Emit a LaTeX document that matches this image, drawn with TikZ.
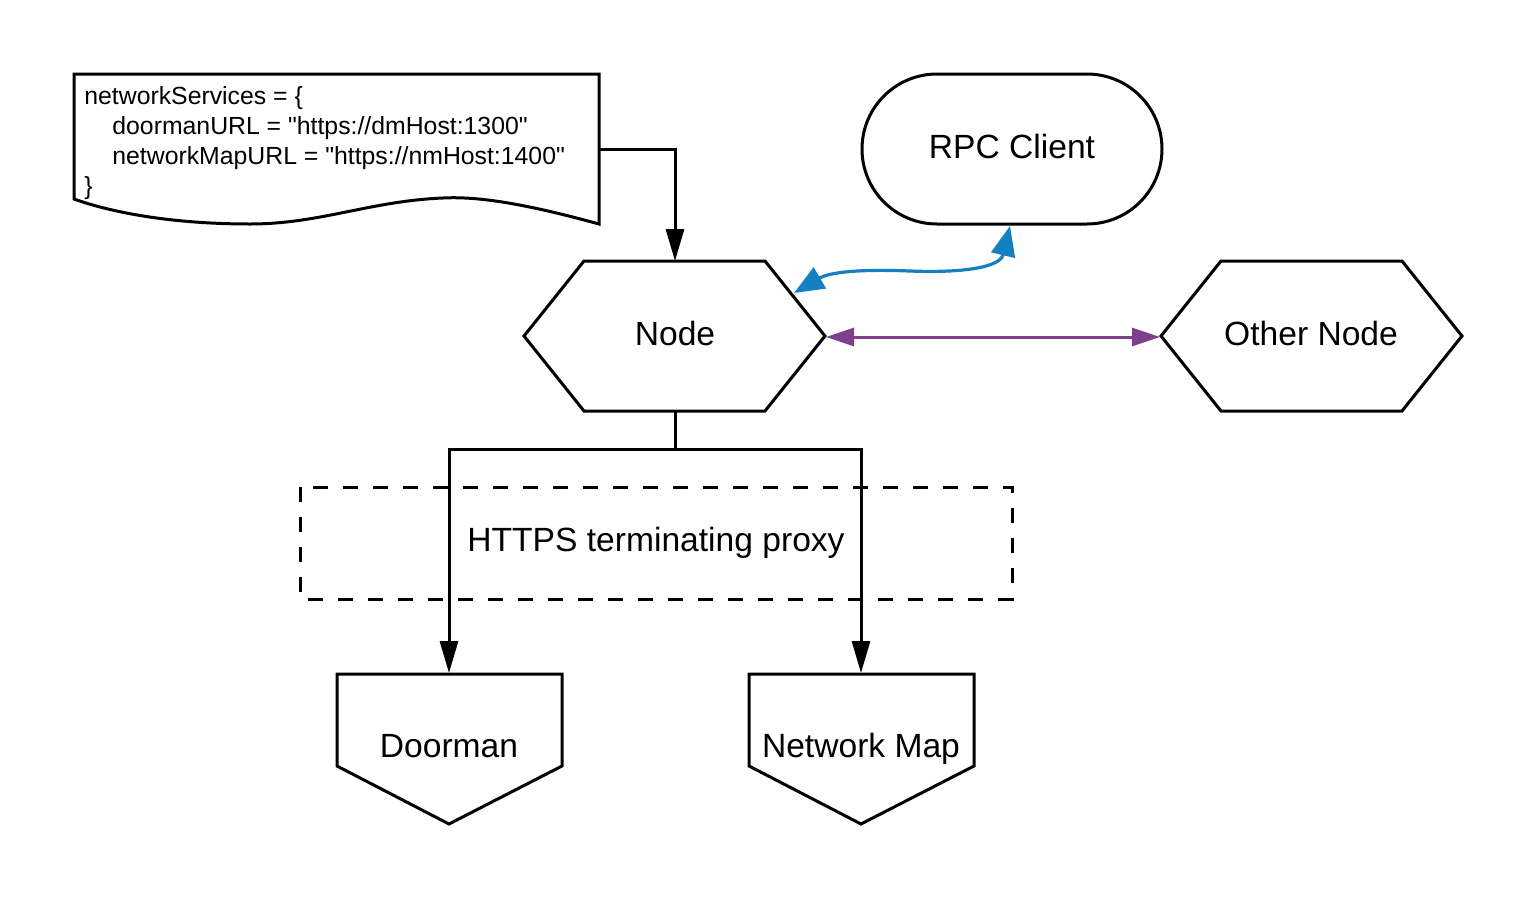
\documentclass[tikz,border=0pt]{standalone}
\usepackage{fontspec}
\setmainfont{Liberation Sans}[Ligatures=TeXOff]
\usetikzlibrary{arrows.meta}
\definecolor{rpcblue}{RGB}{20,127,193}
\definecolor{peerpurple}{RGB}{126,63,142}
\tikzset{
  shp/.style={draw=black, line width=1.5pt, line join=miter, fill=white},
  lbl/.style={inner sep=0pt, anchor=base, font=\fontsize{16.8}{20}\selectfont},
  doctext/.style={inner sep=0pt, align=left, font=\fontsize{12.4}{15}\selectfont},
  conn/.style={draw=black, line width=1.5pt, -{Triangle[length=16pt,width=9pt]}},
  plainconn/.style={draw=black, line width=1.5pt},
  rpcconn/.style={draw=rpcblue, line width=1.6pt, {Triangle[length=15pt,width=12pt]}-{Triangle[length=15pt,width=12pt]}},
  peerconn/.style={draw=peerpurple, line width=1.5pt, {Triangle[length=14pt,width=9pt]}-{Triangle[length=14pt,width=9pt]}},
  proxybox/.style={draw=black, line width=1.5pt, dash pattern=on 7.5pt off 7.5pt}
}
\begin{document}
\begin{tikzpicture}[x=0.5pt,y=-0.5pt]
\useasboundingbox (0,0) rectangle (1538,900);
% document shape
\draw[shp] (74,74) -- (599,74) -- (599,224)
  .. controls (530,205) and (480,196) .. (443,198)
  .. controls (370,201) and (320,224) .. (250,224)
  .. controls (170,224) and (110,212) .. (74,199) -- cycle;
\node[doctext, anchor=west] (doc) at (84,143) {networkServices = \{\\\hspace*{14pt}doormanURL = "https://dmHost:1300"\\\hspace*{14pt}networkMapURL = "https://nmHost:1400"\\\}};
\coordinate (doc-out) at (599,149);
\coordinate (doc-bend) at (675,149);
% RPC client
\draw[shp, rounded corners=37.5pt] (862,74) rectangle (1162,224);
\node[lbl] (rpc) at (1012,158) {RPC Client};
\coordinate (rpc-bottom) at (1010,226);
% Node hexagon
\draw[shp] (524,336) -- (584,261) -- (765,261) -- (825,336) -- (765,411) -- (584,411) -- cycle;
\node[lbl] (node) at (675,345) {Node};
\coordinate (node-top) at (675,261);
\coordinate (node-bottom) at (675,411);
\coordinate (node-right) at (826,337);
\coordinate (node-ne) at (794,293);
% Other Node hexagon
\draw[shp] (1161,336) -- (1221,261) -- (1402,261) -- (1462,336) -- (1402,411) -- (1221,411) -- cycle;
\node[lbl] (other) at (1311,345) {Other Node};
\coordinate (other-left) at (1160,337);
% proxy box
\draw[proxybox] (300,487) rectangle (1012,599);
\node[lbl] (proxy) at (656,551) {HTTPS terminating proxy};
% Doorman
\draw[shp] (337,674) -- (562,674) -- (562,766) -- (449,824) -- (337,766) -- cycle;
\node[lbl] (doorman) at (449,757) {Doorman};
\coordinate (doorman-top) at (449,673);
% Network Map
\draw[shp] (749,674) -- (974,674) -- (974,766) -- (861,824) -- (749,766) -- cycle;
\node[lbl] (netmap) at (861,757) {Network Map};
\coordinate (netmap-top) at (861,673);
% connectors
\draw[conn] (doc-out) -- (doc-bend) -- (node-top);
\coordinate (split) at (675,449);
\draw[plainconn] (node-bottom) -- (split);
\draw[conn] (split) -| (doorman-top);
\draw[conn] (split) -| (netmap-top);
\draw[rpcconn] (node-ne) .. controls (830,272) and (860,269) .. (910,271) .. controls (960,273) and (1000,268) .. (rpc-bottom);
\draw[peerconn] (node-right) -- (other-left);
\end{tikzpicture}
\end{document}
